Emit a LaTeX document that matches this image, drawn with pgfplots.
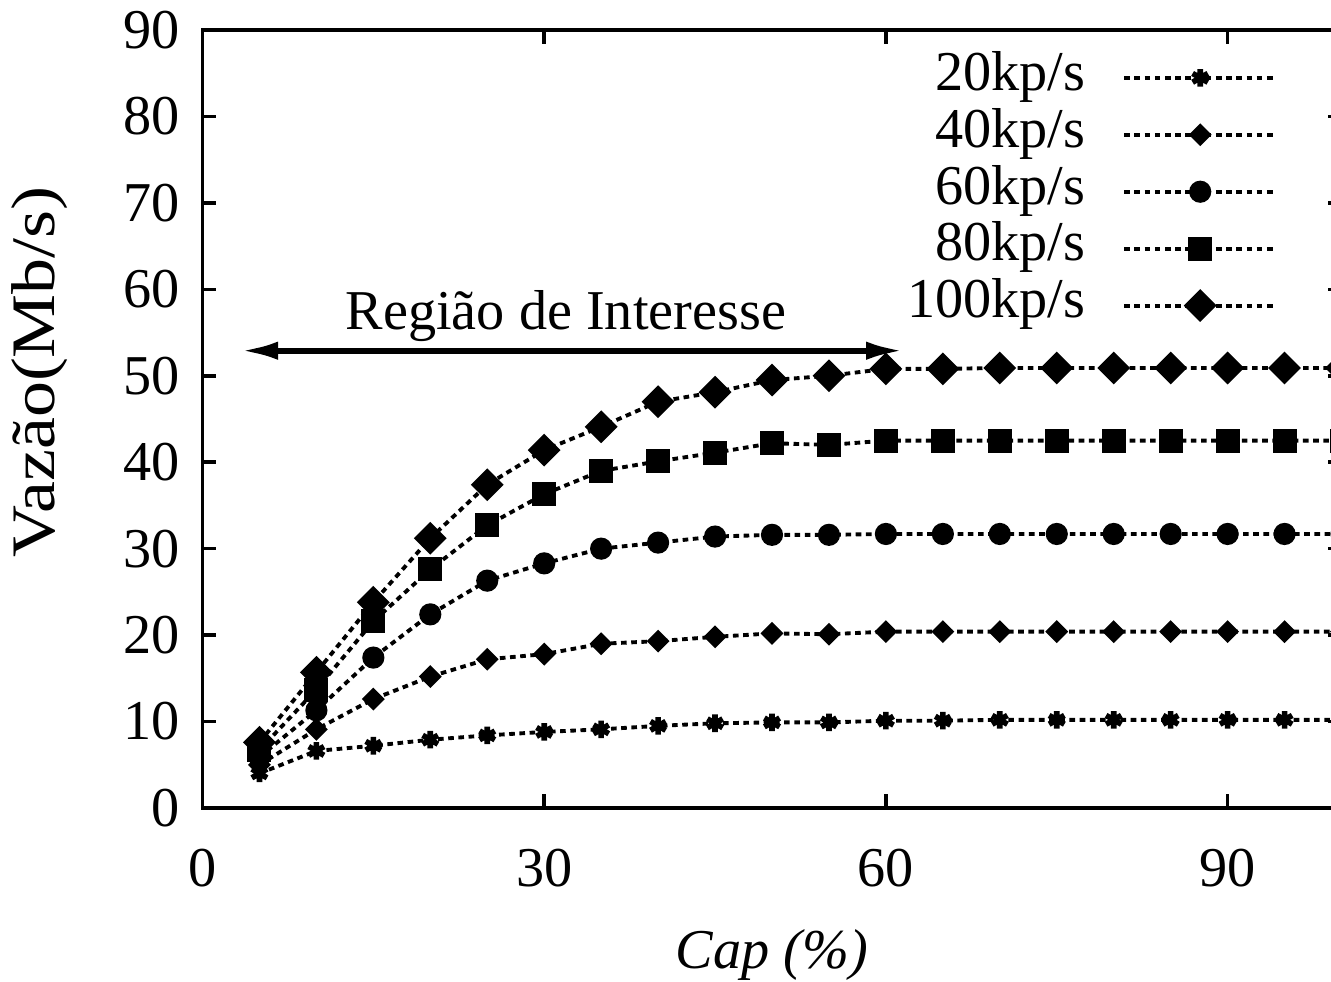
\documentclass[border=0pt]{standalone}
\usepackage{pgfplots}
\pgfplotsset{compat=1.18}
\usepackage{fontspec}
\setmainfont{Liberation Serif}
\usetikzlibrary{arrows.meta}

\newcommand{\bigfont}{\fontsize{16}{19}\selectfont}

\begin{document}
\begin{tikzpicture}
\begin{axis}[
  at={(0,0)}, anchor=south west,
  scale only axis,
  width=11.39cm, height=7.78cm,
  xmin=0, xmax=100, ymin=0, ymax=90,
  xtick={0,30,60,90},
  ytick={0,10,...,90},
  tick align=inside,
  major tick length=0.14cm,
  axis line style={line width=1pt},
  tick style={line width=1pt, black},
  ticklabel style={font=\bigfont},
  /pgf/number format/assume math mode=true,
  xticklabel style={yshift=-0.29cm},
  yticklabel style={xshift=-0.1cm},
  xlabel={\textit{Cap (\%)}},
  ylabel={\scalebox{1.28}[1.1]{Vazão(Mb/s)}},
  every axis x label/.style={at={(axis description cs:0.5,-0.189)}, anchor=center, font=\bigfont},
  every axis y label/.style={at={(axis description cs:-0.1427,0.5604)}, anchor=center, rotate=90, font=\bigfont},
  legend plot pos=right,
  legend cell align=right,
  legend style={draw=none, fill=none, inner sep=0pt, font=\bigfont,
    at={(axis description cs:0.945,0.976)}, anchor=north east,
    column sep=0.37cm, row sep=0pt,
    nodes={inner sep=0pt, text height=11.6pt, text depth=4.6pt}},
  legend image code/.code={
    \draw[#1, mark=none] (0cm,0cm) -- (1.52cm,0cm);
    \draw[#1, only marks] plot coordinates {(0.76cm,0cm)};
  },
  every axis plot/.append style={black, line width=1.1pt, dash pattern=on 1.6pt off 1.3pt},
]
% 20kp/s
\addplot[mark=asterisk, mark size=2.5pt, mark options={solid, line width=1.6pt}] coordinates {
 (5,4.0) (10,6.6) (15,7.2) (20,7.9) (25,8.4) (30,8.8) (35,9.1) (40,9.5) (45,9.8) (50,9.9)
 (55,9.9) (60,10.1) (65,10.1) (70,10.2) (75,10.2) (80,10.2) (85,10.2) (90,10.2) (95,10.2) (100,10.2)};
\addlegendentry{20kp/s}
% 40kp/s
\addplot[mark=square*, mark size=1.75pt, mark options={solid, rotate=45}] coordinates {
 (5,5.0) (10,9.1) (15,12.6) (20,15.2) (25,17.2) (30,17.8) (35,19.0) (40,19.3) (45,19.8) (50,20.2)
 (55,20.1) (60,20.4) (65,20.4) (70,20.4) (75,20.4) (80,20.4) (85,20.4) (90,20.4) (95,20.4) (100,20.4)};
\addlegendentry{40kp/s}
% 60kp/s
\addplot[mark=*, mark size=2.6pt, mark options={solid}] coordinates {
 (5,5.9) (10,11.3) (15,17.4) (20,22.4) (25,26.3) (30,28.3) (35,30.0) (40,30.7) (45,31.4) (50,31.6)
 (55,31.6) (60,31.7) (65,31.7) (70,31.7) (75,31.7) (80,31.7) (85,31.7) (90,31.7) (95,31.7) (100,31.7)};
\addlegendentry{60kp/s}
% 80kp/s
\addplot[mark=square*, mark size=2.85pt, mark options={solid}] coordinates {
 (5,6.7) (10,13.7) (15,21.6) (20,27.6) (25,32.7) (30,36.3) (35,39.0) (40,40.1) (45,41.1) (50,42.2)
 (55,42.0) (60,42.5) (65,42.5) (70,42.5) (75,42.5) (80,42.5) (85,42.5) (90,42.5) (95,42.5) (100,42.5)};
\addlegendentry{80kp/s}
% 100kp/s
\addplot[mark=square*, mark size=2.75pt, mark options={solid, rotate=45}] coordinates {
 (5,7.6) (10,15.7) (15,23.8) (20,31.2) (25,37.4) (30,41.4) (35,44.1) (40,47.0) (45,48.1) (50,49.5)
 (55,50.0) (60,50.8) (65,50.8) (70,50.9) (75,50.9) (80,50.9) (85,50.9) (90,50.9) (95,50.9) (100,50.9)};
\addlegendentry{100kp/s}

\draw[line width=1.7pt, {Latex[length=10.8pt,width=5.2pt]}-{Latex[length=10.8pt,width=5.2pt]}]
  (axis cs:3.3,52.9) -- (axis cs:61.6,52.9);
\node[font=\bigfont] at (axis cs:31.9,56.9) {Região de Interesse};
\end{axis}
\pgfresetboundingbox
\useasboundingbox (-2.025cm,-1.74cm) rectangle (11.285cm,8.08cm);
\end{tikzpicture}
\end{document}
